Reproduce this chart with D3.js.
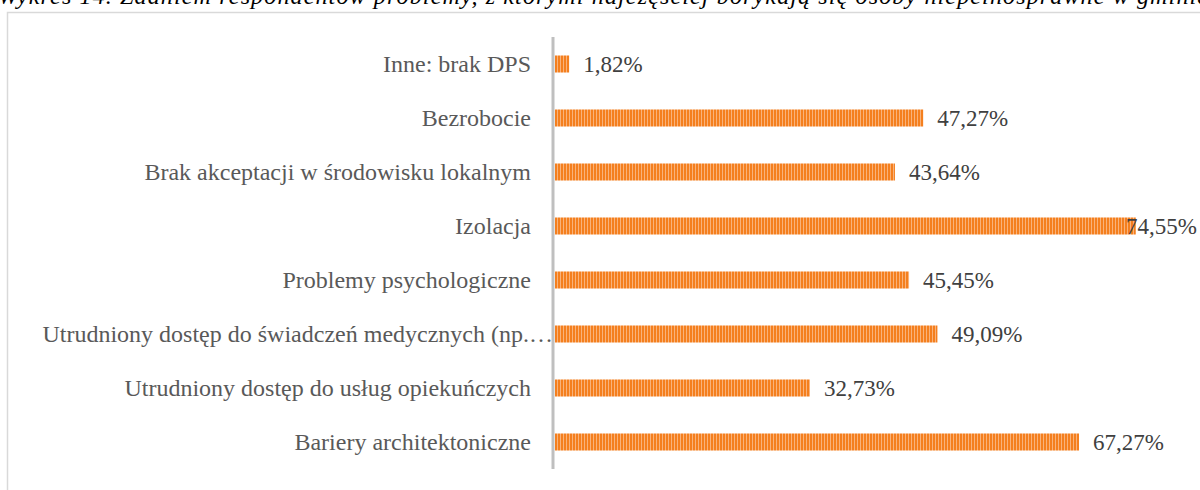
<!DOCTYPE html>
<html><head><meta charset="utf-8">
<script src="https://cdn.jsdelivr.net/npm/d3@7"></script>
<style>
html,body{margin:0;padding:0;background:#fff;overflow:hidden}
svg{display:block}
</style></head>
<body>
<svg id="chart" width="1200" height="490"></svg>
<script>
const caption = "Wykres 14. Zdaniem respondentów problemy, z którymi najczęściej borykają się osoby niepełnosprawne w gminie";
const categories = [
  "Inne: brak DPS",
  "Bezrobocie",
  "Brak akceptacji w środowisku lokalnym",
  "Izolacja",
  "Problemy psychologiczne",
  "Utrudniony dostęp do świadczeń medycznych (np.…",
  "Utrudniony dostęp do usług opiekuńczych",
  "Bariery architektoniczne"
];
const values = [1.82, 47.27, 43.64, 74.55, 45.45, 49.09, 32.73, 67.27];
const valueLabels = ["1,82%", "47,27%", "43,64%", "74,55%", "45,45%", "49,09%", "32,73%", "67,27%"];

const svg = d3.select("#chart");

// pattern
const defs = svg.append("defs");
const pat = defs.append("pattern").attr("id","stripes").attr("patternUnits","userSpaceOnUse")
  .attr("width",3).attr("height",10);
pat.append("rect").attr("width",3).attr("height",10).attr("fill","#f9b27a");
pat.append("rect").attr("width",2).attr("height",10).attr("fill","#f47f1e");

// caption (clipped at top, as in the source)
svg.append("text").attr("x",-2).attr("y",4)
  .attr("font-family","'Liberation Serif','Times New Roman',serif")
  .attr("font-style","italic").attr("font-size",24).attr("fill","#000")
  .attr("textLength",1210).attr("lengthAdjust","spacing")
  .text(caption);

// chart border
svg.append("rect").attr("x",7.5).attr("y",12.5).attr("width",1300).attr("height",600)
  .attr("fill","none").attr("stroke","#d9d9d9").attr("stroke-width",1.5);

const x = d3.scaleLinear().domain([0,100]).range([555,1334]);
const y = d3.scaleBand().domain(categories).range([37,469]).paddingInner(0.685).paddingOuter(0.3425);

// bars
svg.append("g").selectAll("rect").data(values).join("rect")
  .attr("x", x(0))
  .attr("y", (d,i)=> y(categories[i]))
  .attr("width", d => x(d)-x(0))
  .attr("height", y.bandwidth())
  .attr("fill","url(#stripes)");

// axis
const axis = d3.axisLeft(y).tickSize(0).tickPadding(22);
const ga = svg.append("g").attr("transform","translate(553,0)").call(axis);
ga.select(".domain").attr("stroke","#bfbfbf").attr("stroke-width",3)
  .attr("d", `M0,${y.range()[0]}V${y.range()[1]}`);
ga.selectAll(".tick text")
  .attr("font-family","'Liberation Serif','Times New Roman',serif")
  .attr("font-size",24).attr("fill","#595959")
  .attr("dy","0.34em")
  .attr("x", d => d.endsWith("…") ? 0 : -22);

// value labels
const vl = svg.append("g").selectAll("text").data(values).join("text")
  .attr("font-family","'Liberation Serif','Times New Roman',serif")
  .attr("font-size",23).attr("fill","#404040")
  .attr("y",(d,i)=> y(categories[i]) + y.bandwidth()/2)
  .attr("dy","0.34em")
  .text((d,i)=> valueLabels[i])
  .attr("x", d => x(d) + 14);
vl.each(function(d){
  const t = d3.select(this);
  const w = this.getComputedTextLength();
  if (x(d) + 14 + w > 1197) t.attr("x", 1197 - w);
});
</script>
</body></html>
